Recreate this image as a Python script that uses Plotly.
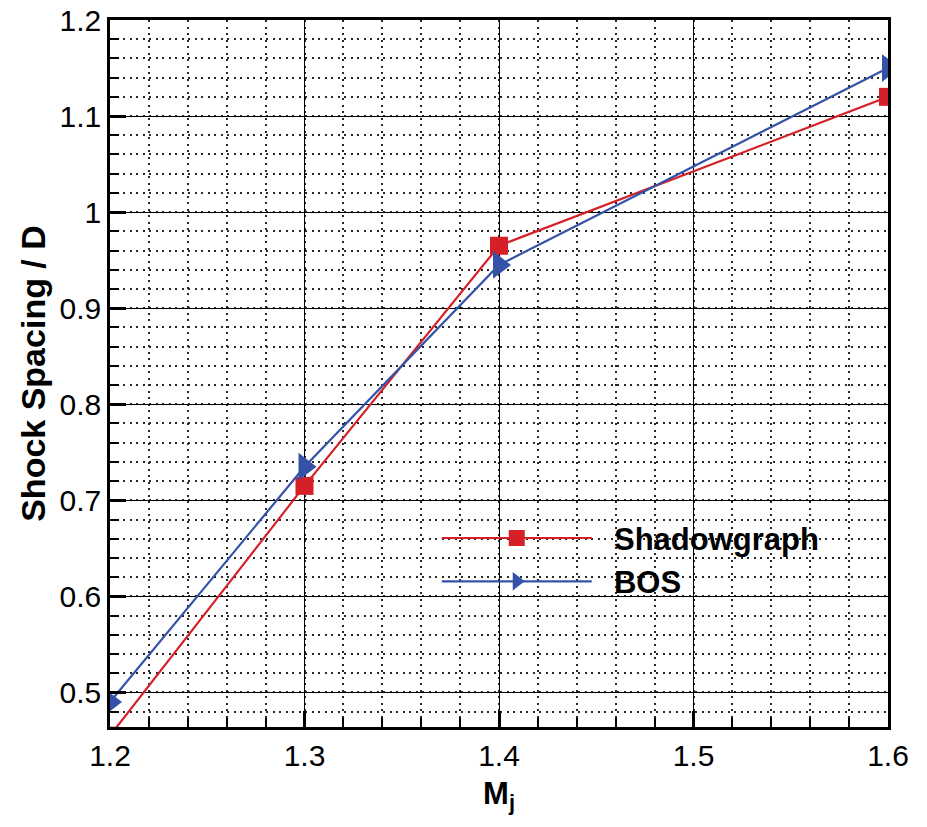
import plotly.graph_objects as go

# Jet Mach number and normalised shock spacing
mach = [1.2, 1.3, 1.4, 1.6]
shadowgraph = [0.455, 0.715, 0.965, 1.12]
bos = [0.49, 0.735, 0.945, 1.15]

x_ticks = [1.2, 1.3, 1.4, 1.5, 1.6]
y_ticks = [0.5, 0.6, 0.7, 0.8, 0.9, 1.0, 1.1, 1.2]
y_labels = ["0.5", "0.6", "0.7", "0.8", "0.9", "1", "1.1", "1.2"]

RED = "rgb(214,32,40)"
BLUE = "rgb(52,82,168)"
FONT = "Liberation Sans, Arial, sans-serif"
GAP = "\u00a0\u00a0"

fig = go.Figure()
fig.add_trace(go.Scatter(
    x=mach, y=shadowgraph, name=GAP + "Shadowgraph", mode="lines+markers",
    line=dict(color=RED, width=2.2),
    marker=dict(symbol="square", size=18, color=RED),
    cliponaxis=True,
))
fig.add_trace(go.Scatter(
    x=mach, y=bos, name=GAP + "BOS", mode="lines+markers",
    line=dict(color=BLUE, width=2.2),
    marker=dict(symbol="triangle-right", size=24, color=BLUE),
    cliponaxis=True,
))

axis_common = dict(
    showline=True, linecolor="black", linewidth=2.5, mirror=True,
    showgrid=True, gridcolor="black", gridwidth=1.2,
    ticks="inside", ticklen=16, tickwidth=2.5, tickcolor="black",
    tickfont=dict(family=FONT, size=30, color="black"),
    zeroline=False, automargin=False,
)
minor_common = dict(
    showgrid=True, griddash="2px,4.5px", gridcolor="rgb(40,40,40)", gridwidth=1.6,
    ticks="inside", ticklen=9, tickcolor="black", tickwidth=1.5,
)

fig.update_xaxes(
    range=[1.2, 1.6], tickvals=x_ticks, ticktext=[f"{v:g}" for v in x_ticks],
    minor=dict(dtick=0.02, tick0=1.2, **minor_common),
    title=dict(text="<b>M<sub>j</sub></b>", font=dict(family=FONT, size=31, color="black"),
               standoff=12),
    **axis_common,
)
fig.update_yaxes(
    range=[0.464, 1.2], tickvals=y_ticks, ticktext=y_labels,
    minor=dict(dtick=0.02, tick0=0.5, **minor_common),
    title=dict(text="<b>Shock Spacing / D</b>", font=dict(family=FONT, size=34, color="black"),
               standoff=4),
    **axis_common,
)

fig.update_layout(
    width=927, height=827,
    margin=dict(l=110, r=39, t=20, b=100),
    paper_bgcolor="white", plot_bgcolor="white",
    showlegend=True,
    legend=dict(
        x=0.42, y=0.305, xanchor="left", yanchor="top",
        bgcolor="rgba(0,0,0,0)", borderwidth=0,
        font=dict(family=FONT, size=31, color="black", weight="bold"),
        itemwidth=150, tracegroupgap=0,
    ),
)

fig.write_html("out.html")
